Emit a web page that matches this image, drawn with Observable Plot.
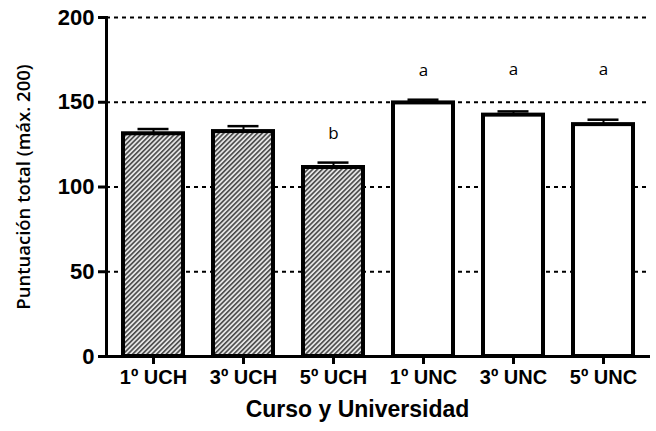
<!DOCTYPE html>
<html><head><meta charset="utf-8">
<script src="https://cdn.jsdelivr.net/npm/d3@7"></script>
<script src="https://cdn.jsdelivr.net/npm/@observablehq/plot@0.6"></script>
<style>body{margin:0;background:#fff}#chart svg{display:block}</style>
</head><body><div id="chart"></div>
<script>
const categories = ["1º UCH","3º UCH","5º UCH","1º UNC","3º UNC","5º UNC"];
const groups = ["UCH","UCH","UCH","UNC","UNC","UNC"];
const means = [131.4, 132.7, 111.5, 149.6, 142.4, 136.8];
const errors = [2.8, 3.2, 2.9, 1.9, 2.2, 2.9];
const letters = ["", "", "b", "a", "a", "a"];
const letterY = [null, null, 131.5, 168.5, 169.5, 169.5];
const yTicks = [0, 50, 100, 150, 200];
const gridTicks = [50, 100, 150, 200];

const data = categories.map((c, i) => ({cat: c, group: groups[i], mean: means[i], err: errors[i], upper: means[i] + errors[i], letter: letters[i], ly: letterY[i]}));
const uch = data.filter(d => d.group === "UCH");
const unc = data.filter(d => d.group === "UNC");
const lab = data.filter(d => d.letter);

const plot = Plot.plot({
  width: 656, height: 431,
  marginLeft: 106, marginRight: 6, marginTop: 17, marginBottom: 75,
  style: {fontFamily: "Liberation Sans, Arial, sans-serif", background: "white"},
  x: {type: "band", domain: categories, paddingInner: 0.33, paddingOuter: 0.165, label: null},
  y: {domain: [0, 200], label: null},
  marks: [
    Plot.gridY(gridTicks, {stroke: "black", strokeOpacity: 1, strokeWidth: 2, strokeDasharray: "4,4"}),
    Plot.barY(uch, {x: "cat", y: "mean", fill: "url(#hatch)", stroke: "black", strokeWidth: 4}),
    Plot.barY(unc, {x: "cat", y: "mean", fill: "white", stroke: "black", strokeWidth: 4}),
    Plot.ruleX(data, {x: "cat", y1: "mean", y2: "upper", stroke: "black", strokeWidth: 2}),
    Plot.tickY(data, {x: "cat", y: "upper", stroke: "black", strokeWidth: 2.5, insetLeft: 14.5, insetRight: 14.5}),
    Plot.text(lab, {x: "cat", y: "ly", text: "letter", fontSize: 17, fontFamily: "Open Sans, sans-serif", fill: "black"}),
    Plot.axisY({ticks: yTicks, tickSize: 8, tickPadding: 4, strokeWidth: 3, fontSize: 22, fontWeight: "bold", label: null, tickFormat: d3.format("d"), fill: "black"}),
    Plot.axisX({tickSize: 8, tickPadding: 5, strokeWidth: 3, fontSize: 20, fontWeight: "bold", label: null, fill: "black"}),
    Plot.ruleY([0], {stroke: "black", strokeWidth: 3}),
    Plot.frame({anchor: "left", stroke: "black", strokeWidth: 3}),
    Plot.text(["Curso y Universidad"], {frameAnchor: "bottom", dy: 60, dx: -21, fontSize: 23, fontWeight: "bold", fill: "black"}),
    Plot.text(["Puntuación total (máx. 200)"], {frameAnchor: "left", textAnchor: "middle", dx: -82, rotate: -90, fontSize: 18.5, fontWeight: 600, fontFamily: "Open Sans, sans-serif", fill: "black"})
  ]
});

const ns = "http://www.w3.org/2000/svg";
const defs = document.createElementNS(ns, "defs");
defs.innerHTML = `<pattern id="hatch" patternUnits="userSpaceOnUse" width="3.4" height="3.4" patternTransform="rotate(45)">
  <rect width="3.4" height="3.4" fill="#e4e4e4"></rect>
  <line x1="0.8" y1="0" x2="0.8" y2="3.4" stroke="#333" stroke-width="1.4"></line>
</pattern>`;
plot.insertBefore(defs, plot.firstChild);
document.getElementById("chart").appendChild(plot);
</script>
</body></html>
